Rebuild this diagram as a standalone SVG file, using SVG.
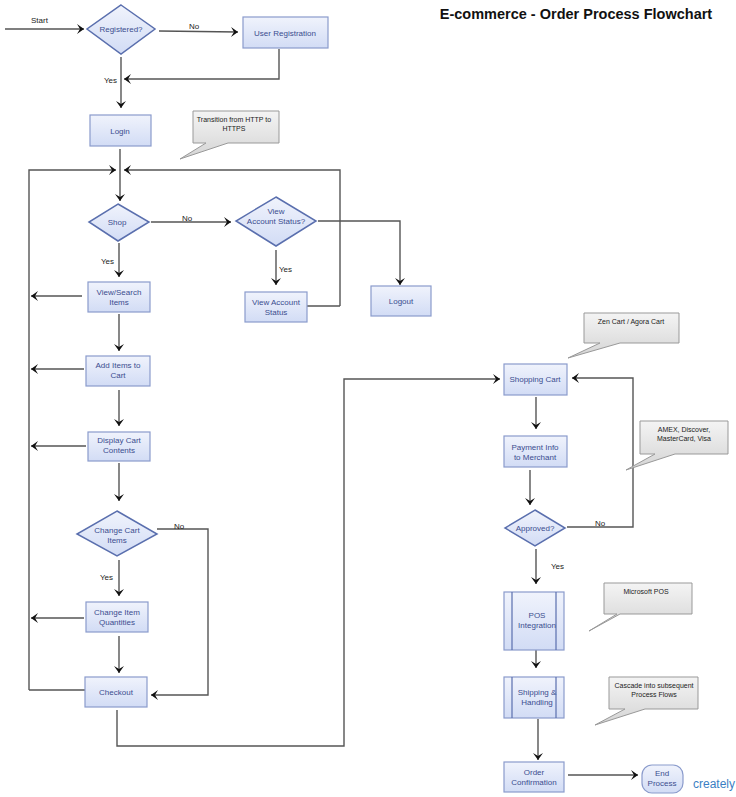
<svg xmlns="http://www.w3.org/2000/svg" width="736" height="797" viewBox="0 0 736 797">
<defs>
<linearGradient id="gb" x1="0" y1="0" x2="0" y2="1"><stop offset="0" stop-color="#f0f3fc"/><stop offset="1" stop-color="#d2dcf5"/></linearGradient>
<linearGradient id="gg" x1="0" y1="0" x2="0" y2="1"><stop offset="0" stop-color="#f4f4f4"/><stop offset="1" stop-color="#d4d4d4"/></linearGradient>
<marker id="a" markerWidth="12" markerHeight="12" refX="10" refY="6" orient="auto" markerUnits="userSpaceOnUse"><path d="M3,1 L10,6 L3,11 L6,6 Z" fill="#111"/></marker>
<style>
.n{fill:url(#gb);stroke:#8a9bcc;stroke-width:1.2}
.d{fill:url(#gb);stroke:#5a6fae;stroke-width:1.5}
.c{fill:url(#gg);stroke:#999;stroke-width:1}
.t{font-family:"Liberation Sans",Arial,sans-serif;font-size:8px;fill:#3b4d8f;text-anchor:middle}
.ct{font-family:"Liberation Sans",Arial,sans-serif;font-size:7px;fill:#222;text-anchor:middle}
.l{font-family:"Liberation Sans",Arial,sans-serif;font-size:8px;fill:#222}
.e{fill:none;stroke:#555;stroke-width:1.4}
.ea{fill:none;stroke:#555;stroke-width:1.4;marker-end:url(#a)}
</style>
</defs>
<text x="576" y="19" font-family="Liberation Sans,Arial,sans-serif" font-size="14.5" font-weight="bold" text-anchor="middle" fill="#111">E-commerce - Order Process Flowchart</text>

<g id="connectors">
<path class="ea" d="M5,29 H84"/>
<path class="ea" d="M159,31 L238,32"/>
<path class="ea" d="M279,49 V79 H124"/>
<path class="ea" d="M121,57 V108"/>
<path class="ea" d="M120,149 V201"/>
<path class="ea" d="M29,690 V170 H116"/>
<path class="ea" d="M340,306 V170 H124"/>
<path class="ea" d="M151,222 H231"/>
<path class="ea" d="M318,221 H400 V285"/>
<path class="ea" d="M276,250 V285"/>
<path class="e" d="M307,306 H340"/>
<path class="ea" d="M119,243 V277"/>
<path class="ea" d="M82,296 H31"/>
<path class="ea" d="M119,314 V351"/>
<path class="ea" d="M84,369 H31"/>
<path class="ea" d="M119,390 V426"/>
<path class="ea" d="M86,446 H31"/>
<path class="ea" d="M119,463 V501"/>
<path class="ea" d="M157,529 H208 V695 H151"/>
<path class="ea" d="M119,560 V596"/>
<path class="ea" d="M84,618 H31"/>
<path class="ea" d="M119,636 V673"/>
<path class="e" d="M85,690 H29"/>
<path class="ea" d="M117,710 V746 H344 V379 H500"/>
<path class="ea" d="M567,527 H633 V378 H572"/>
<path class="ea" d="M536,397 V429"/>
<path class="ea" d="M530,470 V505"/>
<path class="ea" d="M536,549 V584"/>
<path class="ea" d="M536,636 V668"/>
<path class="ea" d="M538,719 V760"/>
<path class="ea" d="M568,775 H638"/>
<text class="l" x="31" y="23">Start</text>
<text class="l" x="189" y="29">No</text>
<text class="l" x="104" y="83">Yes</text>
<text class="l" x="182" y="221">No</text>
<text class="l" x="279" y="272">Yes</text>
<text class="l" x="101" y="264">Yes</text>
<text class="l" x="174" y="529">No</text>
<text class="l" x="100" y="580">Yes</text>
<text class="l" x="595" y="526">No</text>
<text class="l" x="551" y="569">Yes</text>
</g>

<g id="registered"><polygon class="d" points="121,5 155,29 121,54 87,29"/><text class="t" x="121" y="32">Registered?</text></g>
<g id="user-registration"><rect class="n" x="243" y="17" width="85" height="31"/><text class="t" x="285" y="36">User Registration</text></g>
<g id="login"><rect class="n" x="90" y="115" width="61" height="31"/><text class="t" x="120" y="134">Login</text></g>
<g id="callout-https"><path class="c" d="M193,111 H279 V143 H228 L180,159 L206,143 H193 Z"/><text class="ct" x="234" y="122">Transition from HTTP to</text><text class="ct" x="234" y="131">HTTPS</text></g>
<g id="shop"><polygon class="d" points="118,204 149,222 118,241 89,222"/><text class="t" x="117" y="225">Shop</text></g>
<g id="view-account-q"><polygon class="d" points="276,197 316,221 276,246 236,221"/><text class="t" x="276" y="214">View</text><text class="t" x="276" y="224">Account  Status?</text></g>
<g id="logout"><rect class="n" x="371" y="286" width="60" height="30"/><text class="t" x="401" y="304">Logout</text></g>
<g id="view-account"><rect class="n" x="245" y="292" width="62" height="30"/><text class="t" x="276" y="305">View Account</text><text class="t" x="276" y="315">Status</text></g>
<g id="view-search"><rect class="n" x="88" y="282" width="62" height="30"/><text class="t" x="119" y="295">View/Search</text><text class="t" x="119" y="305">Items</text></g>
<g id="add-items"><rect class="n" x="86" y="356" width="64" height="30"/><text class="t" x="118" y="368">Add Items to</text><text class="t" x="118" y="378">Cart</text></g>
<g id="display-cart"><rect class="n" x="88" y="432" width="62" height="29"/><text class="t" x="119" y="443">Display Cart</text><text class="t" x="119" y="453">Contents</text></g>
<g id="change-cart"><polygon class="d" points="117,511 157,534 117,556 77,534"/><text class="t" x="117" y="533">Change Cart</text><text class="t" x="117" y="543">Items</text></g>
<g id="change-qty"><rect class="n" x="86" y="602" width="62" height="30"/><text class="t" x="117" y="615">Change Item</text><text class="t" x="117" y="625">Quantities</text></g>
<g id="checkout"><rect class="n" x="85" y="677" width="62" height="30"/><text class="t" x="116" y="695">Checkout</text></g>
<g id="shopping-cart"><rect class="n" x="504" y="364" width="63" height="31"/><text class="t" x="535" y="382">Shopping Cart</text></g>
<g id="callout-zen"><path class="c" d="M584,313 H679 V343 H620 L568,358 L600,343 H584 Z"/><text class="ct" x="631" y="324">Zen Cart / Agora Cart</text></g>
<g id="payment"><rect class="n" x="504" y="436" width="63" height="31"/><text class="t" x="535" y="450">Payment Info</text><text class="t" x="535" y="460">to Merchant</text></g>
<g id="callout-amex"><path class="c" d="M640,421 H728 V454 H675 L626,470 L655,454 H640 Z"/><text class="ct" x="684" y="432">AMEX, Discover,</text><text class="ct" x="684" y="441">MasterCard, Visa</text></g>
<g id="approved"><polygon class="d" points="535,510 565,528 535,546 505,528"/><text class="t" x="535" y="531">Approved?</text></g>
<g id="pos"><rect class="n" x="504" y="592" width="60" height="58"/><path d="M512,592 V650 M556,592 V650" stroke="#5a6fae" stroke-width="1.2"/><text class="t" x="537" y="618">POS</text><text class="t" x="537" y="628">Integration</text></g>
<g id="callout-pos"><path class="c" d="M604,583 H692 V614 H620 L589,631 L617,614 H604 Z"/><text class="ct" x="646" y="594">Microsoft POS</text></g>
<g id="shipping"><rect class="n" x="504" y="677" width="60" height="41"/><path d="M512,677 V718 M556,677 V718" stroke="#5a6fae" stroke-width="1.2"/><text class="t" x="537" y="695">Shipping &amp;</text><text class="t" x="537" y="705">Handling</text></g>
<g id="callout-cascade"><path class="c" d="M609,677 H698 V709 H645 L595,725 L625,709 H609 Z"/><text class="ct" x="654" y="688">Cascade into subsequent</text><text class="ct" x="654" y="697">Process Flows</text></g>
<g id="order-confirmation"><rect class="n" x="504" y="762" width="60" height="30"/><text class="t" x="534" y="775">Order</text><text class="t" x="534" y="785">Confirmation</text></g>
<g id="end"><rect class="n" x="642" y="765" width="41" height="28" rx="10" stroke="#5a6fae"/><text class="t" x="662" y="776">End</text><text class="t" x="662" y="786">Process</text></g>
<text x="714" y="788" font-family="Liberation Sans,Arial,sans-serif" font-size="12" fill="#3b7fc4" text-anchor="middle">creately</text>
</svg>
